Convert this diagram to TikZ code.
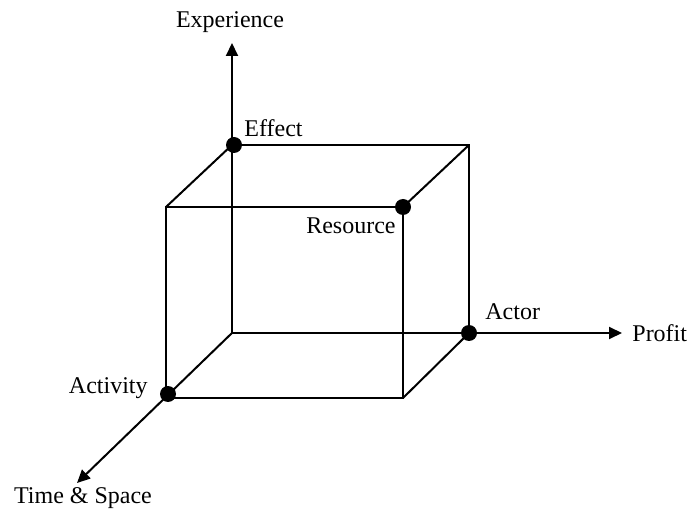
\documentclass[tikz,border=0pt]{standalone}
\usepackage{fontspec}
\setmainfont{Liberation Serif}
\usetikzlibrary{arrows.meta, positioning, calc}

\begin{document}
\begin{tikzpicture}[
    x=0.5pt, y=-0.5pt,
    edge/.style={line width=1pt},
    axis/.style={line width=1pt,-{Triangle[length=6.5pt,width=6pt]}},
    dot/.style={circle, fill=black, inner sep=0pt, minimum size=8pt},
    lbl/.style={font=\fontsize{12}{14}\selectfont, inner sep=0pt}
]
\useasboundingbox (0,0) rectangle (691,513);

% Corners of the box

\coordinate (origin) at (232,333);
\coordinate (back_tl) at (232,145);
\coordinate (back_tr) at (469,145);
\coordinate (back_br) at (469,333);
\coordinate (front_tl) at (166,207);
\coordinate (front_tr) at (403,207);
\coordinate (front_br) at (403,398);
\coordinate (front_bl) at (166,398);

% Axis ends

\coordinate (up_end) at (232,43);
\coordinate (right_end) at (622,333);
\coordinate (diag_end) at (77,483);

% Axes

\draw[axis] (origin) -- (up_end);
\draw[axis] (origin) -- (right_end);
\draw[axis] (origin) -- (diag_end);

% Box edges

\draw[edge] (back_tl) -- (back_tr) -- (back_br);
\draw[edge] (front_tl) -- (front_tr) -- (front_br) -- (front_bl) -- cycle;
\draw[edge] (back_tl) -- (front_tl);
\draw[edge] (back_tr) -- (front_tr);
\draw[edge] (back_br) -- (front_br);

% Dots

\node[dot] (effect) at (234,145) {};
\node[dot] (resource) at (front_tr) {};
\node[dot] (actor) at (back_br) {};
\node[dot] (activity) at (168,394) {};

% Labels

\node[lbl] (experience_lbl) at (230,22) {Experience};
\node[lbl, anchor=west] (profit_lbl) at (632,333) {Profit};
\node[lbl] (timespace_lbl) at (83,498) {Time \& Space};
\node[lbl, anchor=west] (effect_lbl) at (244,128) {Effect};
\node[lbl, anchor=east] (resource_lbl) at (396,226) {Resource};
\node[lbl, anchor=west] (actor_lbl) at (485,312) {Actor};
\node[lbl, anchor=east] (activity_lbl) at (148,388) {Activity};

\end{tikzpicture}
\end{document}
